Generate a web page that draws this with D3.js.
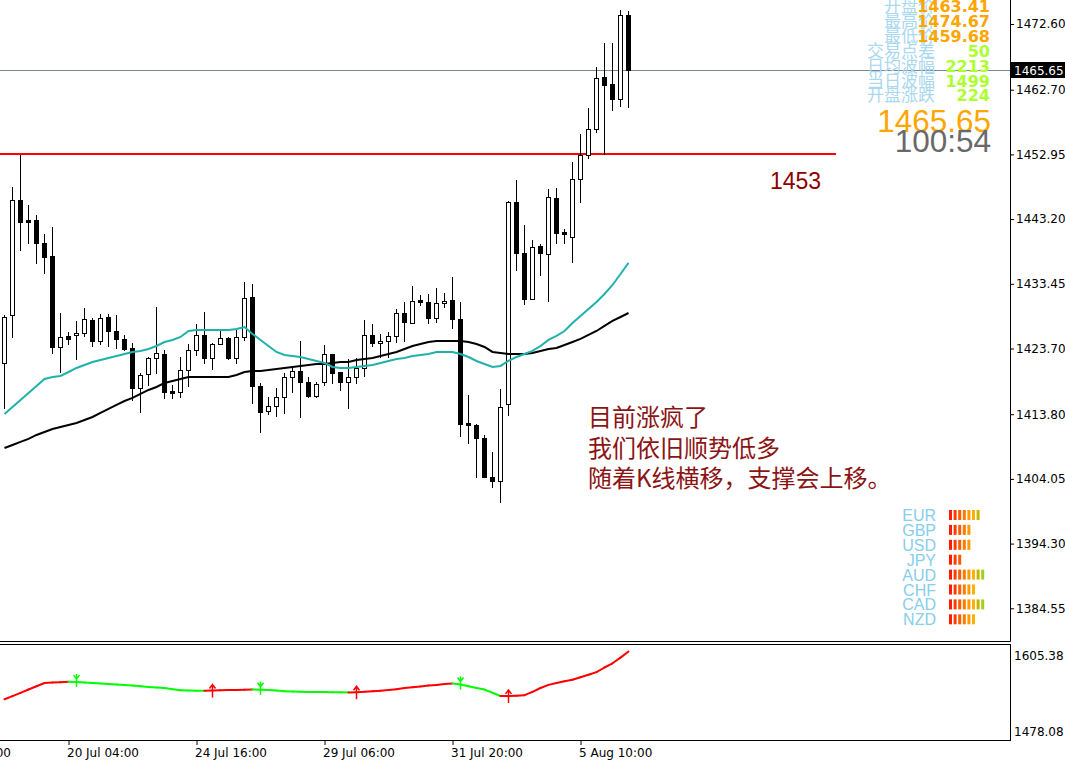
<!DOCTYPE html>
<html><head><meta charset="utf-8">
<script src="https://cdn.jsdelivr.net/npm/d3@7"></script>
<style>body{margin:0;background:#fff;overflow:hidden}svg{display:block}</style>
</head><body><svg id="c" width="1065" height="763"></svg>
<script>
const opens=[1421.52,1428.75,1446.08,1443.06,1443.06,1439.60,1437.64,1423.93,1425.58,1425.74,
1426.04,1428.00,1424.83,1428.45,1426.34,1425.13,1423.78,1417.75,1419.86,1422.27,
1422.87,1417.30,1417.15,1420.46,1423.48,1425.74,1422.27,1424.38,1425.28,1422.27,
1425.43,1431.46,1418.05,1414.28,1415.04,1416.39,1419.41,1420.31,1418.65,1416.54,
1418.65,1422.87,1420.16,1418.65,1419.41,1420.76,1425.74,1424.53,1424.83,1425.58,
1429.05,1427.54,1431.01,1430.71,1428.30,1430.56,1431.01,1428.15,1412.47,1412.17,
1410.21,1404.34,1403.73,1415.34,1445.78,1438.09,1431.16,1439.15,1437.94,1446.38,
1441.26,1440.50,1449.24,1452.86,1456.78,1464.61,1463.56,1461.30,1473.96];
const highs=[1428.75,1448.04,1452.86,1445.33,1443.82,1440.96,1442.01,1429.05,1426.19,1427.85,
1429.80,1428.30,1428.90,1428.90,1428.75,1425.74,1424.53,1420.01,1422.42,1429.95,
1423.48,1418.20,1422.42,1424.38,1427.39,1429.20,1424.53,1426.34,1425.43,1426.64,
1433.72,1433.42,1418.50,1416.39,1417.75,1419.99,1420.91,1424.83,1419.41,1418.65,
1424.23,1422.87,1420.16,1422.12,1422.27,1428.00,1427.39,1425.89,1426.19,1429.65,
1430.71,1433.12,1431.76,1431.91,1432.82,1432.06,1434.48,1430.71,1416.69,1412.32,
1410.67,1408.10,1417.60,1445.93,1449.09,1442.31,1440.05,1439.45,1447.74,1447.89,
1441.71,1451.80,1456.02,1459.94,1466.12,1469.74,1469.74,1474.67,1474.50];
const lows=[1414.73,1425.43,1438.54,1439.60,1436.59,1435.08,1423.02,1420.16,1424.38,1422.12,
1425.58,1424.08,1424.38,1424.08,1423.78,1423.48,1415.94,1414.13,1418.20,1419.99,
1416.24,1416.24,1416.39,1418.05,1422.72,1421.52,1420.61,1424.38,1422.12,1421.52,
1424.98,1415.49,1411.12,1413.83,1413.53,1413.98,1417.15,1413.38,1416.39,1416.39,
1418.20,1418.50,1417.45,1414.73,1418.50,1419.56,1424.08,1422.42,1422.42,1424.68,
1424.83,1427.54,1430.26,1427.54,1427.69,1429.95,1426.79,1410.52,1409.46,1404.34,
1404.34,1402.83,1400.57,1413.68,1435.53,1430.41,1431.16,1434.78,1430.86,1439.60,
1439.60,1436.74,1445.78,1452.41,1456.33,1453.01,1459.68,1460.24,1460.09];
const closes=[1428.45,1446.08,1442.76,1442.76,1439.60,1437.49,1423.93,1425.43,1425.13,1426.04,
1428.15,1424.83,1428.30,1426.34,1425.13,1423.63,1417.75,1419.71,1422.27,1423.02,
1417.15,1417.00,1420.46,1423.48,1425.74,1422.27,1424.38,1425.28,1422.27,1425.43,
1431.31,1418.05,1414.13,1415.04,1416.39,1419.41,1420.31,1418.65,1416.54,1418.35,
1422.87,1420.01,1418.65,1419.41,1420.76,1425.74,1424.53,1424.83,1425.58,1429.05,
1427.69,1430.86,1430.71,1428.30,1430.56,1430.86,1428.15,1412.32,1412.17,1410.21,
1404.34,1403.73,1414.89,1445.78,1438.09,1431.16,1439.00,1438.09,1446.53,1441.11,
1440.96,1449.24,1452.86,1456.78,1464.46,1463.41,1461.30,1473.96,1465.65];
const maFast=[1413.83,1414.89,1415.94,1417.00,1418.05,1419.11,1419.41,1419.56,1420.16,1420.77,
1421.22,1421.67,1421.97,1422.27,1422.57,1422.88,1423.18,1423.33,1423.63,1424.08,
1424.68,1424.99,1425.44,1426.34,1426.49,1426.49,1426.49,1426.49,1426.49,1426.64,
1426.94,1425.89,1424.99,1424.08,1423.18,1422.73,1422.57,1422.42,1422.12,1421.82,
1421.52,1420.92,1420.77,1420.77,1420.92,1421.07,1421.22,1421.52,1421.82,1422.12,
1422.27,1422.57,1422.73,1422.88,1423.18,1423.18,1423.18,1422.88,1422.42,1421.82,
1421.37,1420.92,1421.07,1421.82,1422.42,1422.88,1423.33,1424.08,1424.99,1425.59,
1426.34,1427.55,1428.60,1429.66,1430.71,1431.92,1433.27,1434.93,1436.59];
const maSlow=[1408.71,1409.16,1409.62,1410.07,1410.67,1411.12,1411.57,1411.88,1412.18,1412.48,
1412.93,1413.38,1413.99,1414.59,1415.19,1415.79,1416.25,1416.85,1417.45,1417.90,
1418.51,1418.81,1419.11,1419.41,1419.41,1419.41,1419.41,1419.41,1419.41,1419.71,
1420.16,1420.31,1420.31,1420.46,1420.62,1420.77,1420.92,1421.07,1421.22,1421.37,
1421.37,1421.52,1421.67,1421.67,1421.97,1422.12,1422.27,1422.57,1422.88,1423.18,
1423.63,1424.08,1424.38,1424.68,1424.83,1424.83,1424.83,1424.83,1424.68,1424.38,
1423.93,1423.18,1423.03,1422.88,1422.88,1422.88,1423.03,1423.33,1423.63,1423.78,
1424.23,1424.68,1425.14,1425.74,1426.34,1427.10,1427.85,1428.45,1429.05];
const osc=[1532.85,1538.21,1543.74,1549.27,1554.63,1560.15,1560.82,1561.33,1562.33,1561.66,
1560.82,1560.15,1559.32,1558.48,1557.81,1556.97,1555.80,1554.63,1553.62,1552.78,
1551.78,1549.77,1547.93,1547.42,1547.26,1547.09,1547.59,1547.93,1548.26,1548.60,
1548.93,1549.27,1548.93,1548.26,1547.42,1546.42,1545.75,1545.41,1545.25,1545.08,
1544.91,1544.74,1544.58,1544.41,1544.74,1545.41,1546.25,1547.09,1548.26,1549.77,
1551.61,1553.12,1554.46,1555.80,1556.97,1558.31,1559.48,1557.64,1554.79,1551.95,
1549.10,1543.74,1538.38,1538.55,1538.88,1539.72,1545.25,1551.78,1556.97,1560.15,
1563.17,1565.68,1569.70,1573.89,1578.41,1586.12,1593.15,1602.70,1612.92];
const priceTicks=[1472.60,1462.70,1452.95,1443.20,1433.45,1423.70,1413.80,1404.05,1394.30,1384.55];
const oscTicks=[1605.38,1478.08];
const timeLabels=["15 Jul 16:00","20 Jul 04:00","24 Jul 16:00","29 Jul 06:00","31 Jul 20:00","5 Aug 10:00"];
const timeIdx=[-8,8,24,40,56,72];
const levelPrice=1453;
const lastPrice=1465.65;
const infoLabels=["开盘价","最高价","最低价","交易点差","日均波幅","当日波幅","开盘涨跌"];
const infoValues=["1463.41","1474.67","1459.68","50","2213","1499","224"];
const timer="100:54";
const notes=["目前涨疯了","我们依旧顺势低多","随着K线横移，支撑会上移。"];
const currencies=["EUR","GBP","USD","JPY","AUD","CHF","CAD","NZD"];
const strength=[7,5,5,3,8,6,8,6];
const barColors=["#ff1a00","#ff3c00","#ff5a00","#ff7a00","#ff9a00","#ffb000","#c8b400","#a2cf1c"];

const svg=d3.select("#c");
const n=opens.length;
const x=d3.scaleLinear().domain([0,n-1]).range([4.5,4.5+8*(n-1)]);
const y=d3.scaleLinear().domain([1384.55,1472.60]).range([608.3,24]);
const yo=d3.scaleLinear().domain([1478.08,1605.38]).range([732,656]);
const defs=svg.append("defs");
defs.append("clipPath").attr("id","cm").append("rect").attr("x",0).attr("y",0).attr("width",1010).attr("height",641);
defs.append("clipPath").attr("id","co").append("rect").attr("x",0).attr("y",645).attr("width",1010).attr("height",96);

const main=svg.append("g").attr("clip-path","url(#cm)");
const px=v=>Math.round(y(v));

main.append("line").attr("x1",0).attr("x2",1010).attr("y1",px(lastPrice)+0.5).attr("y2",px(lastPrice)+0.5)
  .attr("stroke","#7b8894").attr("stroke-width",1);
main.append("line").attr("x1",0).attr("x2",836).attr("y1",y(levelPrice)).attr("y2",y(levelPrice))
  .attr("stroke","#ff0000").attr("stroke-width",2);
main.append("text").attr("x",770).attr("y",y(levelPrice)+35).text(String(levelPrice))
  .attr("font-family","Liberation Sans, Arial, sans-serif").attr("font-size",23).attr("fill","#8b0000");

const idx=d3.range(n);
main.append("g").selectAll("line").data(idx).join("line")
  .attr("x1",i=>x(i)).attr("x2",i=>x(i))
  .attr("y1",i=>px(highs[i])).attr("y2",i=>px(lows[i])+1)
  .attr("stroke","#000").attr("stroke-width",1);
main.append("g").selectAll("rect").data(idx).join("rect").each(function(i){
  const up=closes[i]>=opens[i];
  const t=px(Math.max(opens[i],closes[i])), b=px(Math.min(opens[i],closes[i]));
  const s=d3.select(this);
  if(up){
    s.attr("x",x(i)-2).attr("y",t+0.5).attr("width",4).attr("height",Math.max(b-t,1))
     .attr("fill","#fff").attr("stroke","#000").attr("stroke-width",1);
  } else {
    s.attr("x",x(i)-2.5).attr("y",t).attr("width",5).attr("height",Math.max(b-t+1,2)).attr("fill","#000");
  }
});

const ln=d3.line().x((d,i)=>x(i)).y(d=>y(d));
main.append("path").attr("d",ln(maSlow)).attr("fill","none").attr("stroke","#000").attr("stroke-width",2);
main.append("path").attr("d",ln(maFast)).attr("fill","none").attr("stroke","#20b2aa").attr("stroke-width",2);

const ann=main.append("g").attr("font-family","Noto Sans CJK SC, sans-serif").attr("font-size",24).attr("fill","#8b1414");
notes.forEach((t,k)=>ann.append("text").attr("x",588).attr("y",426+k*30.5).text(t));

const info=main.append("g");
infoLabels.forEach((t,k)=>info.append("text").attr("x",935).attr("y",12+k*14.9).attr("text-anchor","end")
  .attr("font-family","Noto Sans CJK SC, sans-serif").attr("font-size",17).attr("fill","#aad8f0").text(t));
infoValues.forEach((t,k)=>info.append("text").attr("x",990).attr("y",12+k*14.9).attr("text-anchor","end")
  .attr("font-family","DejaVu Sans, sans-serif").attr("font-weight","bold").attr("font-size",16)
  .attr("fill",k<3?"#ffa500":"#adff2f").text(t));
info.append("text").attr("x",991).attr("y",132).attr("text-anchor","end").attr("font-family","Liberation Sans, Arial, sans-serif")
  .attr("font-size",31.5).attr("fill","#ffa500").text(lastPrice.toFixed(2));
info.append("text").attr("x",991).attr("y",152).attr("text-anchor","end").attr("font-family","Liberation Sans, Arial, sans-serif")
  .attr("font-size",31.5).attr("fill","#696969").text(timer);

const cs=main.append("g");
currencies.forEach((c,k)=>{
  const cy=515+k*14.9;
  cs.append("text").attr("x",936).attr("y",cy+6).attr("text-anchor","end")
    .attr("font-family","Liberation Sans, Arial, sans-serif").attr("font-size",16).attr("fill","#87ceeb").text(c);
  cs.selectAll(null).data(d3.range(strength[k])).join("rect")
    .attr("x",j=>949+j*4.6).attr("y",cy-5).attr("width",3).attr("height",10)
    .attr("fill",j=>barColors[j]);
});

const fr=svg.append("g").attr("fill","none").attr("stroke","#000").attr("stroke-width",1);
fr.append("line").attr("x1",1010.5).attr("x2",1010.5).attr("y1",0).attr("y2",641.5);
fr.append("line").attr("x1",0).attr("x2",1010.5).attr("y1",641.5).attr("y2",641.5);
fr.append("rect").attr("x",-1).attr("y",644.5).attr("width",1011.5).attr("height",96);

const ax=svg.append("g").attr("transform","translate(1010,0)")
  .call(d3.axisRight(y).tickValues(priceTicks).tickFormat(d3.format(".2f")).tickSize(4).tickPadding(2));
ax.select(".domain").remove();
ax.selectAll("text").attr("font-family","DejaVu Sans, sans-serif").attr("font-size",12).attr("fill","#000");
ax.selectAll("line").attr("stroke","#000");

const yp=px(lastPrice);
svg.append("rect").attr("x",1011).attr("y",yp-8).attr("width",54).attr("height",16).attr("fill","#000");
svg.append("text").attr("x",1014).attr("y",yp+5).text(lastPrice.toFixed(2))
  .attr("font-family","DejaVu Sans, sans-serif").attr("font-size",12).attr("fill","#fff");

const og=svg.append("g").attr("clip-path","url(#co)");
d3.range(n-1).forEach(i=>{
  og.append("line").attr("x1",x(i)).attr("x2",x(i+1)).attr("y1",yo(osc[i])).attr("y2",yo(osc[i+1]))
    .attr("stroke",osc[i+1]>=osc[i]?"#ff0000":"#00ff00").attr("stroke-width",2).attr("stroke-linecap","round");
});
for(let i=2;i<n;i++){
  const d1=osc[i]-osc[i-1], d0=osc[i-1]-osc[i-2];
  const cx=x(i), cy=yo(osc[i]);
  if(d1<0&&d0>0){
    og.append("path").attr("d",`M${cx-3},${cy-7}L${cx},${cy-3}L${cx+3},${cy-7}M${cx},${cy-8}L${cx},${cy+5}`)
      .attr("stroke","#00ff00").attr("stroke-width",1.5).attr("fill","none");
  } else if(d1>0&&d0<0){
    og.append("path").attr("d",`M${cx-3},${cy-2}L${cx},${cy-6}L${cx+3},${cy-2}M${cx},${cy-6}L${cx},${cy+7}`)
      .attr("stroke","#ff0000").attr("stroke-width",1.5).attr("fill","none");
  }
}
const oax=svg.append("g").attr("transform","translate(1010,0)")
  .call(d3.axisRight(yo).tickValues(oscTicks).tickFormat(d3.format(".2f")).tickSize(0).tickPadding(4));
oax.select(".domain").remove();
oax.selectAll("text").attr("font-family","DejaVu Sans, sans-serif").attr("font-size",12).attr("fill","#000");

const tx=svg.append("g").attr("transform","translate(0,741)")
  .call(d3.axisBottom(x).tickValues(timeIdx).tickFormat((d,i)=>timeLabels[i]).tickSize(4).tickPadding(3));
tx.select(".domain").remove();
tx.selectAll("line").attr("stroke","#000");
tx.selectAll("text").attr("text-anchor","start").attr("dx",-2)
  .attr("font-family","DejaVu Sans, sans-serif").attr("font-size",12).attr("fill","#000");
</script></body></html>
